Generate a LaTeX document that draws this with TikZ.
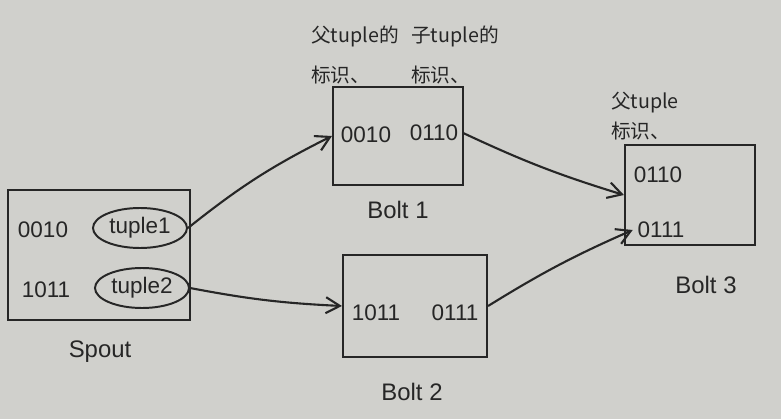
\documentclass[tikz,border=0pt]{standalone}
\usepackage{fontspec}
\setmainfont{Liberation Sans}
\newfontfamily\cjk{Noto Sans CJK SC}
\usetikzlibrary{shapes.geometric,arrows.meta}
\definecolor{paper}{RGB}{208,208,204}
\definecolor{ink}{RGB}{38,38,38}
\tikzset{
  box/.style={draw=ink,line width=1.5pt,inner sep=0pt},
  tup/.style={draw=ink,ellipse,line width=1.4pt,inner sep=0pt,minimum width=2.35cm,minimum height=1cm},
  bits/.style={text=ink,font=\fontsize{16}{18}\selectfont},
  lbl/.style={text=ink,font=\fontsize{17}{20}\selectfont},
  note/.style={text=ink,font=\cjk\fontsize{14}{28}\selectfont,align=left},
  flow/.style={draw=ink,line width=1.5pt,-{Straight Barb[length=3.5mm,width=4mm]}}
}
\begin{document}
\begin{tikzpicture}[x=0.025cm,y=-0.025cm]
                % paper
                \fill[paper] (0,0) rectangle (781,419);
                \useasboundingbox (0,0) rectangle (781,419);
                
                % Spout
                \node[box,minimum width=4.55cm,minimum height=3.25cm] (spout) at (99,255) {};
                \node[bits] (s1) at (43,230) {0010};
                \node[tup,bits] (t1) at (140,228) {tuple1};
                \node[bits] (s2) at (46,290) {1011};
                \node[tup,bits] (t2) at (142,288) {tuple2};
                \node[lbl] (spoutlbl) at (100,352) {Spout};
                
                % Bolt 1
                \node[box,minimum width=3.25cm,minimum height=2.43cm] (b1) at (398,136) {};
                \node[bits] (b1a) at (366,135) {0010};
                \node[bits] (b1b) at (434,133) {0110};
                \node[lbl] (b1lbl) at (398,210) {Bolt 1};
                \node[note] (np) at (355,55) {父tuple的\\标识、};
                \node[note] (nc) at (455,55) {子tuple的\\标识、};
                
                % Bolt 2
                \node[box,minimum width=3.6cm,minimum height=2.53cm] (b2) at (415,306) {};
                \node[bits] (b2a) at (376,313) {1011};
                \node[bits] (b2b) at (455,313) {0111};
                \node[lbl] (b2lbl) at (412,392) {Bolt 2};
                
                % Bolt 3
                \node[box,minimum width=3.25cm,minimum height=2.5cm] (b3) at (690,195) {};
                \node[bits] (b3a) at (658,175) {0110};
                \node[bits] (b3b) at (661,230) {0111};
                \node[lbl] (b3lbl) at (706,285) {Bolt 3};
                \node[note,font=\cjk\fontsize{14}{21}\selectfont] (n3) at (645,116) {父tuple\\标识、};
                
                % flows
                \draw[flow] (t1.east) to[bend left=6] (b1.west);
                \draw[flow] (t2.east) to[bend right=4] (b2.west);
                \draw[flow] (b1b.east) to[bend right=4] (b3.west);
                \draw[flow] (b2.east) to[bend left=4] (b3b.west);
            \end{tikzpicture}
\end{document}
